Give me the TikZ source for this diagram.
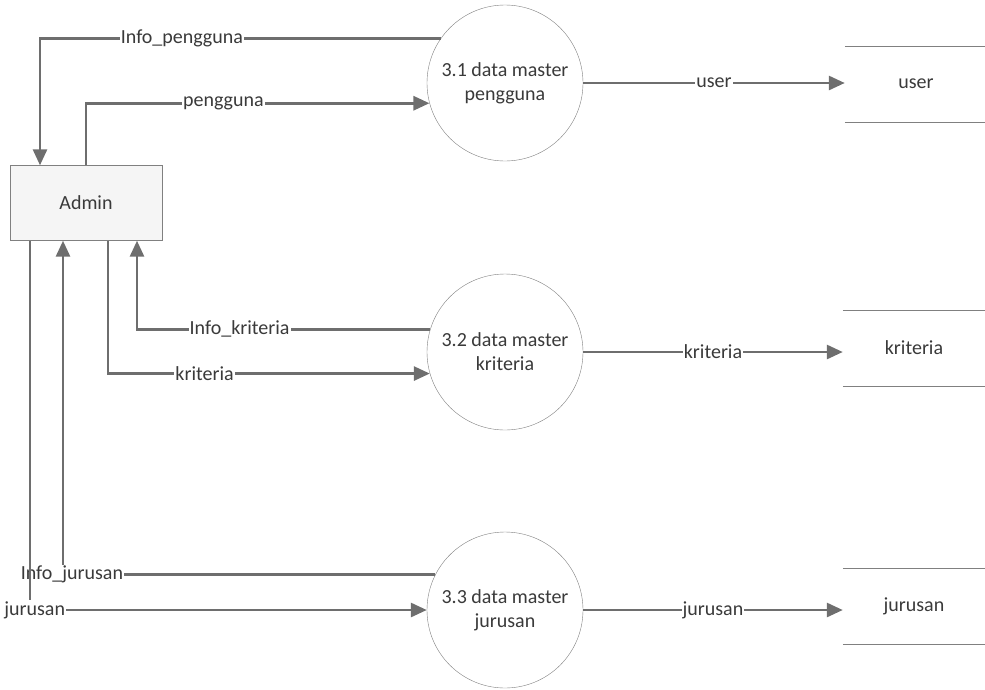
\documentclass[tikz,border=0pt]{standalone}
\usepackage{fontspec}
\setmainfont{Carlito}
\usetikzlibrary{arrows.meta}
\definecolor{flowgray}{HTML}{6E6E6E}
\definecolor{textgray}{HTML}{3A3A3A}
\tikzset{
    >={Triangle[length=16pt,width=14pt]},
    dfd/.style={
        x=1pt,y=-1pt,
        every node/.append style={font=\fontsize{20}{24}\selectfont,text=textgray},
        proc/.append style={circle,draw=gray,thin,fill=white,minimum size=156pt,align=center,inner sep=0pt},
        ext/.append style={draw=gray,fill=gray!8,thin,minimum width=152pt,minimum height=75pt},
        store/.append style={minimum width=142pt,minimum height=76pt},
        storeline/.append style={draw=gray,thin},
        flow/.append style={draw=flowgray,line width=2.8pt},
        lbl/.append style={fill=white,inner sep=1pt}
    }
}

\begin{document}
\begin{tikzpicture}[dfd]
    \useasboundingbox (0,0) rectangle (985,689);
    \node[ext] (a) at (86, 203) {Admin};
    \node[proc] (p1) at (505, 83) {3.1 data master\\pengguna};
    \node[proc] (p2) at (505, 352) {3.2 data master\\kriteria};
    \node[proc] (p3) at (505, 610) {3.3 data master\\jurusan};
    \node[store] (s1) at (916, 84) {user};
    \node[store] (s2) at (914, 348) {kriteria};
    \node[store] (s3) at (914, 606) {jurusan};
    % data store lines
    \draw[storeline] (s1.north west) -- (s1.north east) (s1.south west) -- (s1.south east);
    \draw[storeline] (s2.north west) -- (s2.north east) (s2.south west) -- (s2.south east);
    \draw[storeline] (s3.north west) -- (s3.north east) (s3.south west) -- (s3.south east);
    % flows admin <-> processes
    \draw[flow,->] (p1.145) -| ([xshift=-46pt]a.north) node[lbl,pos=0.323] {Info\_pengguna};
    \draw[flow,->] (a.north) |- (p1.195) node[lbl,pos=0.70] {pengguna};
    \draw[flow,->] (p2.163) -| ([xshift=51pt]a.south) node[lbl,pos=0.325] {Info\_kriteria};
    \draw[flow,->] ([xshift=22pt]a.south) |- (p2.196) node[lbl,pos=0.65] {kriteria};
    \draw[flow,->] (p3.153) -| ([xshift=-23pt]a.south) node[lbl,pos=0.488] {Info\_jurusan};
    \draw[flow,->] ([xshift=-56pt]a.south) |- (p3.west) node[lbl,pos=0.506] {jurusan};
    % flows processes -> stores
    \draw[flow,->] (p1) -- (p1 -| s1.west) node[lbl,midway] {user};
    \draw[flow,->] (p2) -- (p2 -| s2.west) node[lbl,midway] {kriteria};
    \draw[flow,->] (p3) -- (p3 -| s3.west) node[lbl,midway] {jurusan};
\end{tikzpicture}
\end{document}
